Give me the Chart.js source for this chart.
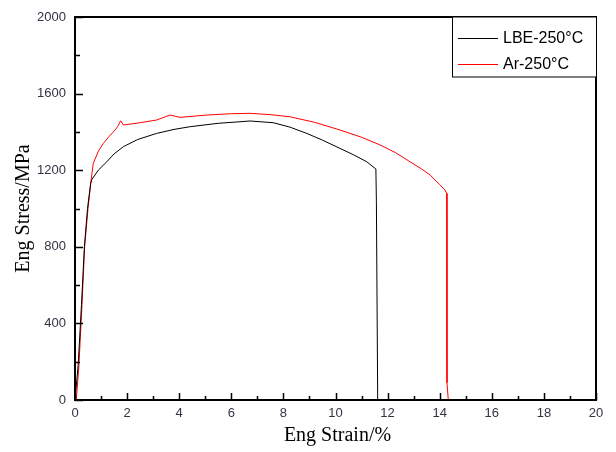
<!DOCTYPE html>
<html>
<head>
<meta charset="utf-8">
<script src="https://cdn.jsdelivr.net/npm/chart.js@4.4.1/dist/chart.umd.min.js"></script>
<style>
  html, body { margin: 0; padding: 0; background: #fff; }
  #wrap { width: 616px; height: 452px; }
</style>
</head>
<body>
<div id="wrap"><canvas id="chart" width="616" height="452"></canvas></div>
<script>
// strain (%) / stress (MPa)
const lbeStrain = [0, 0.12, 0.25, 0.36, 0.48, 0.6, 0.64, 0.9, 1.22, 1.5, 1.86, 2.4, 3.13, 3.8, 4.41, 5.5, 6.33, 6.72, 7.61, 8.25, 8.9, 9.5, 10.17, 10.7, 11.2, 11.55, 11.57, 11.62];
const lbeStress = [0, 180, 500, 800, 1000, 1130, 1150, 1201, 1244, 1285, 1323, 1360, 1392, 1413, 1427, 1445, 1453, 1457, 1448, 1425, 1392, 1357, 1314, 1280, 1244, 1206, 1035, 0];

const arStrain = [0.05, 0.15, 0.27, 0.37, 0.5, 0.62, 0.7, 0.9, 1.09, 1.3, 1.54, 1.65, 1.75, 1.86, 2.5, 3.13, 3.65, 4.03, 5.05, 6.0, 6.72, 7.5, 8.25, 9.2, 10.17, 11.0, 11.71, 12.3, 12.86, 13.3, 13.63, 14.0, 14.2, 14.27, 14.28, 14.33];
const arStress = [0, 180, 500, 800, 1000, 1150, 1235, 1300, 1340, 1375, 1410, 1430, 1458, 1436, 1448, 1462, 1488, 1476, 1488, 1495, 1497, 1490, 1479, 1450, 1410, 1372, 1332, 1292, 1244, 1207, 1175, 1125, 1097, 1079, 90, 0];

const xTicks = [0, 2, 4, 6, 8, 10, 12, 14, 16, 18, 20];
const yTicks = [0, 400, 800, 1200, 1600, 2000];
const seriesNames = ['LBE-250°C', 'Ar-250°C'];
const seriesColors = ['#000000', '#ff0000'];

const toPts = (xs, ys) => xs.map((x, i) => ({ x: x, y: ys[i] }));

// frame, inward ticks, axis titles and legend box
const decor = {
  id: 'decor',
  afterDraw(chart) {
    const { ctx, chartArea: a, scales } = chart;
    const sx = scales.x, sy = scales.y;
    ctx.save();
    ctx.strokeStyle = '#000';
    ctx.lineWidth = 2;
    ctx.strokeRect(a.left, a.top, a.right - a.left, a.bottom - a.top);

    ctx.lineWidth = 1.5;
    ctx.beginPath();
    for (let v = 0; v <= 20; v += 1) {
      const px = Math.round(sx.getPixelForValue(v)) + 0.5;
      const len = v % 2 === 0 ? 7 : 4;
      ctx.moveTo(px, a.bottom);
      ctx.lineTo(px, a.bottom - len);
    }
    for (let v = 0; v <= 2000; v += 200) {
      const py = Math.round(sy.getPixelForValue(v)) + 0.5;
      const len = v % 400 === 0 ? 8 : 5;
      ctx.moveTo(a.left, py);
      ctx.lineTo(a.left + len, py);
    }
    ctx.stroke();

    // axis titles
    ctx.fillStyle = '#000';
    ctx.font = '20px "Liberation Serif", "Times New Roman", serif';
    ctx.textAlign = 'center';
    ctx.textBaseline = 'middle';
    ctx.fillText('Eng Strain/%', (a.left + a.right) / 2 + 2, 436);
    ctx.save();
    ctx.translate(24, (a.top + a.bottom) / 2);
    ctx.rotate(-Math.PI / 2);
    ctx.fillText('Eng Stress/MPa', 0, 0);
    ctx.restore();

    // legend
    const bx = 452, by = a.top, bw = a.right - bx, bh = 60;
    ctx.fillStyle = '#fff';
    ctx.fillRect(bx, by, bw, bh);
    ctx.lineWidth = 1;
    ctx.strokeStyle = '#000';
    ctx.strokeRect(bx + 0.5, by, bw, bh);
    ctx.font = '16px "Liberation Sans", Arial, sans-serif';
    ctx.textAlign = 'left';
    ctx.textBaseline = 'middle';
    const rows = [38, 64];
    seriesNames.forEach((name, i) => {
      ctx.strokeStyle = seriesColors[i];
      ctx.beginPath();
      ctx.moveTo(458, rows[i] + 0.5);
      ctx.lineTo(498, rows[i] + 0.5);
      ctx.stroke();
      ctx.fillStyle = '#000';
      ctx.fillText(name, 503, rows[i] + 1);
    });
    ctx.restore();
  }
};

const tickFont = { family: '"Liberation Sans", Arial, sans-serif', size: 13 };

new Chart(document.getElementById('chart'), {
  type: 'scatter',
  data: {
    datasets: [
      {
        label: seriesNames[0],
        data: toPts(lbeStrain, lbeStress),
        showLine: true,
        borderColor: seriesColors[0],
        borderWidth: 1,
        pointRadius: 0,
        tension: 0,
      },
      {
        label: seriesNames[1],
        data: toPts(arStrain, arStress),
        showLine: true,
        borderColor: seriesColors[1],
        borderWidth: 1,
        pointRadius: 0,
        tension: 0,
      }
    ]
  },
  options: {
    responsive: false,
    animation: false,
    layout: { padding: { top: 17, right: 20, left: 0, bottom: 0 } },
    plugins: {
      legend: { display: false },
      tooltip: { enabled: false }
    },
    scales: {
      x: {
        type: 'linear',
        min: 0, max: 20,
        afterBuildTicks: s => { s.ticks = xTicks.map(v => ({ value: v })); },
        afterFit: s => { s.height = 52; },
        grid: { display: false, drawTicks: false },
        border: { display: false },
        ticks: { color: '#333344', padding: 6, font: tickFont, callback: v => String(v) },
      },
      y: {
        min: 0, max: 2000,
        afterBuildTicks: s => { s.ticks = yTicks.map(v => ({ value: v })); },
        afterFit: s => { s.width = 75; },
        grid: { display: false, drawTicks: false },
        border: { display: false },
        ticks: { color: '#333344', padding: 9, font: tickFont, callback: v => String(v) },
      }
    }
  },
  plugins: [decor]
});
</script>
</body>
</html>
